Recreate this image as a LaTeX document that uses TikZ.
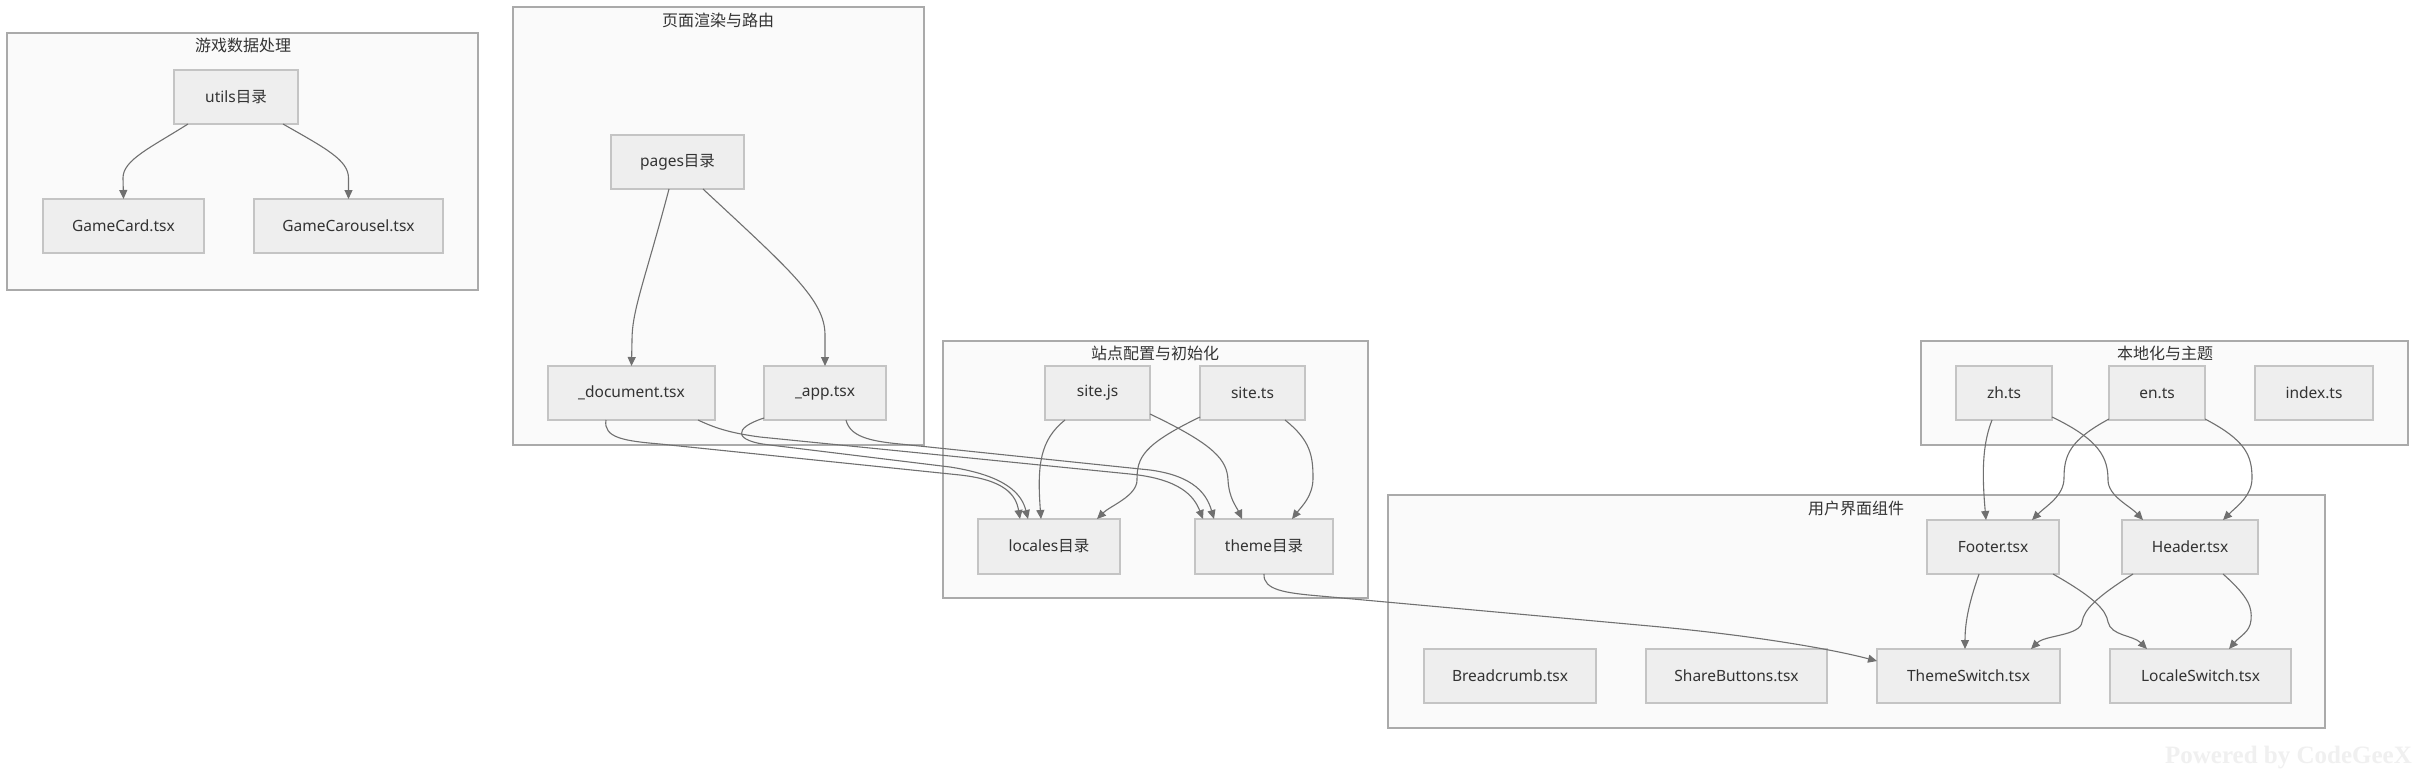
\documentclass[tikz,border=0pt]{standalone}
\usepackage{fontspec}
\setmainfont{Noto Sans}
\newfontfamily\cjk{Noto Sans CJK SC}
\newfontfamily\wmfont{Liberation Serif}
\usetikzlibrary{arrows.meta}
\definecolor{clfill}{HTML}{FAFAFA}
\definecolor{clline}{HTML}{AAAAAA}
\definecolor{ndfill}{HTML}{EEEEEE}
\definecolor{ndline}{HTML}{C4C4C4}
\definecolor{edgec}{HTML}{707070}
\definecolor{txt}{HTML}{333333}
\definecolor{wmc}{HTML}{F0F0F0}
\begin{document}
\begin{tikzpicture}[x=1pt,y=-1pt,
  cluster/.style={draw=clline, fill=clfill, line width=1.6pt, inner sep=0, outer sep=0},
  ctitle/.style={font=\cjk\fontsize{16}{18}\selectfont, text=txt, inner sep=0},
  box/.style={draw=ndline, fill=ndfill, line width=1.6pt, minimum height=54pt, inner sep=0, outer sep=0, font=\fontsize{15.5}{18}\selectfont, text=txt},
  conn/.style={draw=edgec, line width=1.1pt, -{Triangle[length=9pt,width=8pt]}},
]
\useasboundingbox (0,0) rectangle (2416,777);
\fill[white] (0,0) rectangle (2416,777);
% clusters
\node[cluster, minimum width=471pt, minimum height=257pt] (c1) at (242.5,161.5) {};
\node[cluster, minimum width=411pt, minimum height=438pt] (c2) at (718.5,226) {};
\node[cluster, minimum width=425pt, minimum height=257pt] (c3) at (1155.5,469.5) {};
\node[cluster, minimum width=487pt, minimum height=104pt] (c5) at (2164.5,393) {};
\node[cluster, minimum width=937pt, minimum height=233pt] (c4) at (1856.5,611.5) {};
\node[ctitle] (t1) at (243,45) {游戏数据处理};
\node[ctitle] (t2) at (718,20) {页面渲染与路由};
\node[ctitle] (t3) at (1155,353) {站点配置与初始化};
\node[ctitle] (t5) at (2165,353) {本地化与主题};
\node[ctitle] (t4) at (1856,508) {用户界面组件};
% nodes
\node[box, minimum width=124pt] (utils) at (236,97) {utils\cjk{目录}};
\node[box, minimum width=161pt] (gamecard) at (123.5,226) {GameCard.tsx};
\node[box, minimum width=189pt] (carousel) at (348.5,226) {GameCarousel.tsx};
\node[box, minimum width=133pt] (pages) at (677.5,162) {pages\cjk{目录}};
\node[box, minimum width=167pt] (document) at (631.5,393) {\_document.tsx};
\node[box, minimum width=122pt] (app) at (825,393) {\_app.tsx};
\node[box, minimum width=105pt] (sitejs) at (1097.5,393) {site.js};
\node[box, minimum width=105pt] (sitets) at (1252.5,393) {site.ts};
\node[box, minimum width=142pt, minimum height=55pt] (locales) at (1049,546.5) {locales\cjk{目录}};
\node[box, minimum width=138pt, minimum height=55pt] (theme) at (1264,546.5) {theme\cjk{目录}};
\node[box, minimum width=96pt] (zh) at (2004,393) {zh.ts};
\node[box, minimum width=96pt] (en) at (2157,393) {en.ts};
\node[box, minimum width=118pt] (index) at (2314,393) {index.ts};
\node[box, minimum width=132pt] (footer) at (1993,547) {Footer.tsx};
\node[box, minimum width=136pt] (header) at (2190,547) {Header.tsx};
\node[box, minimum width=172pt] (breadcrumb) at (1510,676) {Breadcrumb.tsx};
\node[box, minimum width=181pt] (share) at (1736.5,676) {ShareButtons.tsx};
\node[box, minimum width=183pt] (themesw) at (1968.5,676) {ThemeSwitch.tsx};
\node[box, minimum width=181pt] (localesw) at (2200.5,676) {LocaleSwitch.tsx};
% edges
\draw[conn] ([xshift=-48pt]utils.south) .. controls (150,148) and (123,160) .. (123,178) -- (gamecard.north);
\draw[conn] ([xshift=47pt]utils.south) .. controls (325,148) and (348.5,160) .. (348.5,178) -- (carousel.north);
\draw[conn] ([xshift=-8.5pt]pages.south) .. controls (645,280) and (632,310) .. (632,340) -- (document.north);
\draw[conn] ([xshift=25.5pt]pages.south) .. controls (790,270) and (825,300) .. (825,335) -- (app.north);
\draw[conn] ([xshift=-25.5pt]document.south) .. controls (603,438) and (625,441) .. (660,444) -- (960,475) .. controls (1005,480) and (1016,495) .. ([xshift=-29pt]locales.north);
\draw[conn] ([yshift=2pt]app.south west) .. controls (733,428) and (733,441) .. (770,445) -- (950,467) .. controls (1008,476) and (1022,495) .. ([xshift=-21pt]locales.north);
\draw[conn] ([xshift=66.5pt]document.south) .. controls (715,428) and (730,433) .. (760,437) -- (1130,474) .. controls (1180,479) and (1194,496) .. ([xshift=-61pt]theme.north);
\draw[conn] ([xshift=21pt]app.south) .. controls (850,436) and (868,441) .. (900,444) -- (1150,470) .. controls (1195,476) and (1207,495) .. ([xshift=-50pt]theme.north);
\draw[conn] ([xshift=-32.5pt]sitejs.south) .. controls (1040,440) and (1037,465) .. ([xshift=-8pt]locales.north);
\draw[conn] ([yshift=6pt]sitejs.south east) .. controls (1215,445) and (1227,460) .. (1228,480) .. controls (1229,498) and (1236,506) .. ([xshift=-22pt]theme.north);
\draw[conn] ([yshift=3pt]sitets.south west) .. controls (1142,445) and (1137,458) .. (1137,480) .. controls (1137,496) and (1110,506) .. ([xshift=48pt]locales.north);
\draw[conn] ([xshift=32.5pt]sitets.south) .. controls (1310,440) and (1313,455) .. (1313,478) .. controls (1313,496) and (1302,506) .. ([xshift=28pt]theme.north);
\draw[conn] (theme.south) .. controls (1263,590) and (1285,593) .. (1320,596) -- (1650,626) .. controls (1760,636) and (1835,650) .. ([yshift=15pt]themesw.west);
\draw[conn] ([xshift=-12pt]zh.south) .. controls (1982,445) and (1982,475) .. ([xshift=-7pt]footer.north);
\draw[conn] ([yshift=3pt]zh.south east) .. controls (2100,440) and (2108,458) .. (2108,480) .. controls (2108,496) and (2130,506) .. ([xshift=-47pt]header.north);
\draw[conn] ([yshift=1pt]en.south west) .. controls (2070,440) and (2064,455) .. (2064,478) .. controls (2064,496) and (2046,506) .. ([xshift=39pt]footer.north);
\draw[conn] ([yshift=1pt]en.south east) .. controls (2245,440) and (2252,455) .. (2252,478) .. controls (2252,496) and (2237,506) .. ([xshift=33pt]header.north);
\draw[conn] ([xshift=-14pt]footer.south) .. controls (1970,600) and (1965,620) .. ([xshift=-3.5pt]themesw.north);
\draw[conn] ([xshift=60pt]footer.south) .. controls (2095,598) and (2106,610) .. (2108,622) .. controls (2111,636) and (2133,635) .. ([xshift=-53.5pt]localesw.north);
\draw[conn] ([xshift=-57pt]header.south) .. controls (2095,598) and (2084,610) .. (2082,622) .. controls (2080,636) and (2045,635) .. ([xshift=62.5pt]themesw.north);
\draw[conn] ([xshift=33pt]header.south) .. controls (2250,598) and (2252,608) .. (2251,620) .. controls (2250,632) and (2240,636) .. ([xshift=28.5pt]localesw.north);
% watermark
\node[font=\wmfont\bfseries\fontsize{25}{25}\selectfont, text=wmc, anchor=base east, inner sep=0] (wm) at (2412,763) {Powered by CodeGeeX};
\end{tikzpicture}
\end{document}
